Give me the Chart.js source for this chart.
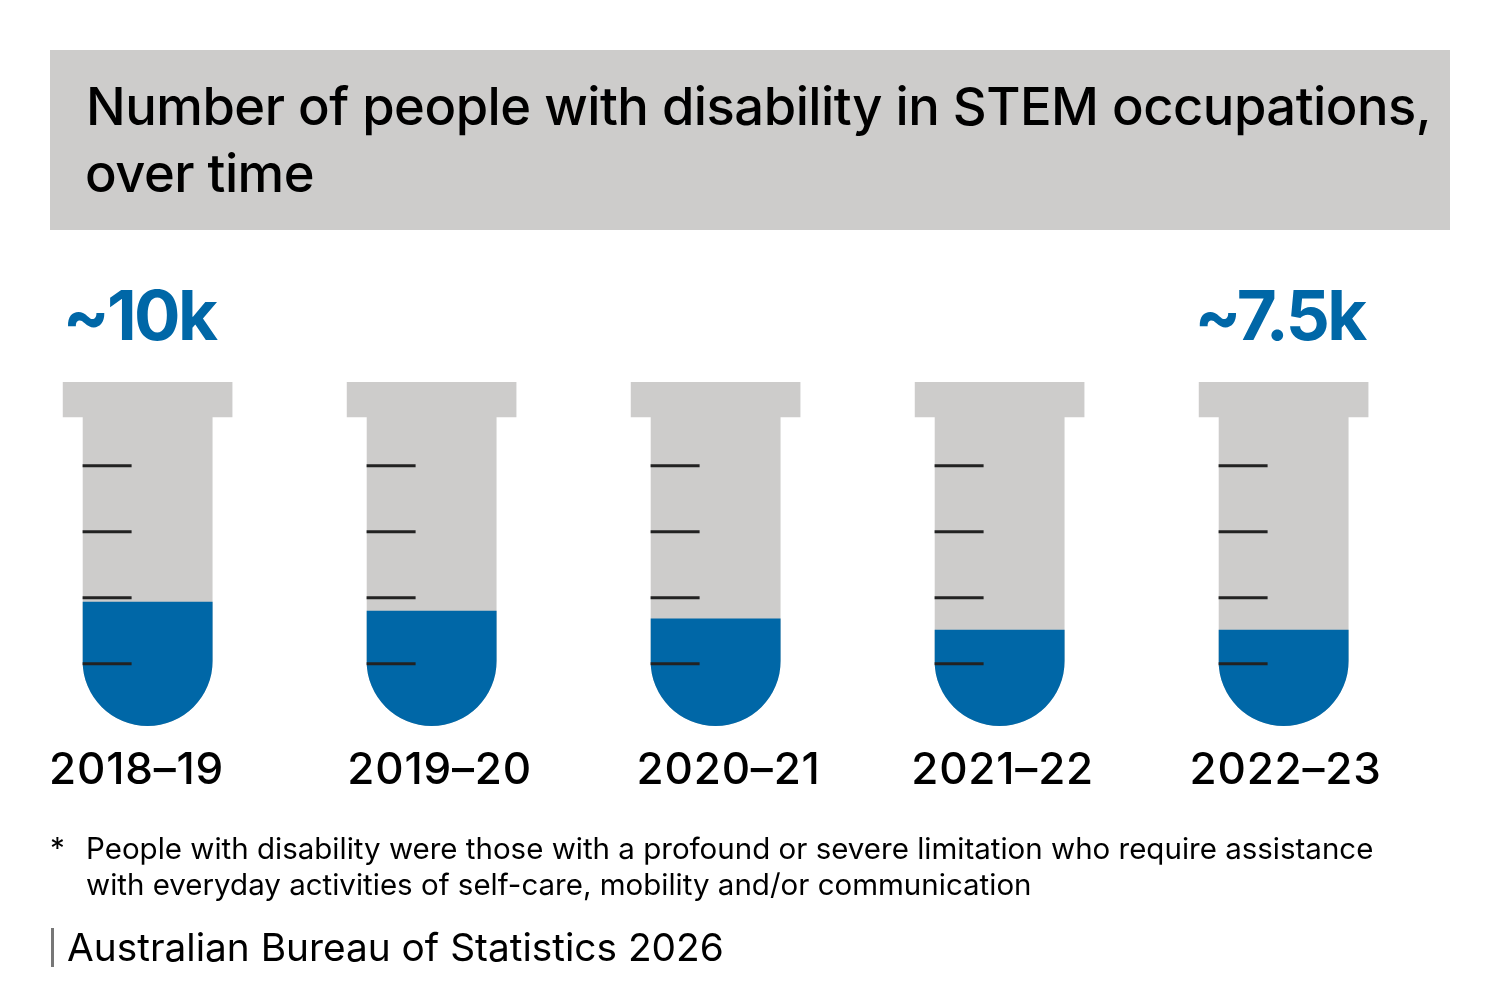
<!DOCTYPE html>
<html lang="en">
<head>
<meta charset="utf-8">
<title>Number of people with disability in STEM occupations, over time</title>
<style>
  html, body { margin: 0; padding: 0; background: #fff; }
  body { position: relative; width: 1500px; height: 1000px; overflow: hidden; font-family: Inter, "Noto Sans", sans-serif; color: #000; }
  #chart { position: absolute; left: 0; top: 0; }
  .text { position: absolute; white-space: nowrap; }
  #band { position: absolute; left: 50px; top: 50px; width: 1400px; height: 180px; background: #cdcccb; }
  #title1, #title2 { left: 86px; font-size: 52.5px; font-weight: 500; line-height: 68px; letter-spacing: -0.5px; }
  #title1 { top: 72px; }
  #title2 { top: 139px; left: 85px; }
  .note { font-size: 29.5px; line-height: 36px; left: 86px; }
  #rule { position: absolute; left: 51px; top: 928px; width: 3px; height: 39px; background: #777; }
  #source { left: 67px; top: 924px; font-size: 38.8px; line-height: 46px; }
</style>
</head>
<body>
<div id="band"></div>
<canvas id="chart" width="1500" height="1000"></canvas>
<div class="text" id="title1">Number of people with disability in STEM occupations,</div>
<div class="text" id="title2">over time</div>
<div class="text note" style="left:50px;top:830px">*</div>
<div class="text note" style="top:830px">People with disability were those with a profound or severe limitation who require assistance</div>
<div class="text note" style="top:866px">with everyday activities of self-care, mobility and/or communication</div>
<div id="rule"></div>
<div class="text" id="source">Australian Bureau of Statistics 2026</div>

<script src="https://cdn.jsdelivr.net/npm/chart.js@4"></script>
<script>
// People with disability in STEM occupations, in thousands
const years = ["2018–19", "2019–20", "2020–21", "2021–22", "2022–23"];
const peopleThousands = [10, 9.2, 8.5, 7.5, 7.5];
const callouts = ["~10k", null, null, null, "~7.5k"];

// Test tube outline and graduation marks, in the same units as the fill
const tubeFloor = -1.07;
const tubeBody = [26.52, 26.52, 26.52, 26.52, 26.52];
const tubeCap = [[26.52, 29.64], [26.52, 29.64], [26.52, 29.64], [26.52, 29.64], [26.52, 29.64]];
const graduations = [4.49, 10.39, 16.28, 22.16];

const GREY = "#cdcccb";
const BLUE = "#0067a7";
const BODY_WIDTH = 130;

// Horizontal nudges so the year labels and callouts sit where the layout wants them
const yearShift = [-11, 8, 13, 3, 2];
const calloutShift = [-8.5, 0, 0, 0, -4];

// Bar corners cap below a full semicircle, so the tube foot is cut with a clip path
const tubeFoot = {
  id: "tubeFoot",
  beforeDatasetDraw(chart, args) {
    const meta = args.meta;
    if (!chart.data.datasets[args.index].roundFoot) return;
    const { ctx, scales: { y } } = chart;
    const floor = y.getPixelForValue(tubeFloor);
    const r = BODY_WIDTH / 2;
    ctx.save();
    ctx.beginPath();
    meta.data.forEach(bar => {
      ctx.rect(bar.x - r, 0, BODY_WIDTH, floor - r);
      ctx.moveTo(bar.x + r, floor - r);
      ctx.arc(bar.x, floor - r, r, 0, Math.PI);
      ctx.closePath();
    });
    ctx.clip();
  },
  afterDatasetDraw(chart, args) {
    if (chart.data.datasets[args.index].roundFoot) chart.ctx.restore();
  }
};

const tubeDecor = {
  id: "tubeDecor",
  afterDatasetsDraw(chart) {
    const { ctx, scales: { x, y } } = chart;
    ctx.save();
    // graduation marks along the left wall of every tube
    ctx.strokeStyle = "#222";
    ctx.lineWidth = 3;
    years.forEach((year, i) => {
      const left = x.getPixelForValue(i) - BODY_WIDTH / 2;
      graduations.forEach(g => {
        const py = y.getPixelForValue(g);
        ctx.beginPath();
        ctx.moveTo(left, py);
        ctx.lineTo(left + 49, py);
        ctx.stroke();
      });
    });
    // year under each tube
    ctx.fillStyle = "#000";
    ctx.textAlign = "center";
    ctx.textBaseline = "alphabetic";
    ctx.font = "500 44px Inter, sans-serif";
    ctx.letterSpacing = "0.8px";
    years.forEach((year, i) => {
      ctx.fillText(year, x.getPixelForValue(i) + yearShift[i], 784);
    });
    // callouts for the first and last year
    ctx.fillStyle = BLUE;
    ctx.font = "700 69px Inter, sans-serif";
    ctx.letterSpacing = "-2.6px";
    callouts.forEach((text, i) => {
      if (text) ctx.fillText(text, x.getPixelForValue(i) + calloutShift[i], 340);
    });
    ctx.restore();
  }
};

new Chart(document.getElementById("chart"), {
  type: "bar",
  data: {
    labels: years,
    datasets: [
      {
        label: "People with disability (thousands)",
        data: peopleThousands,
        base: tubeFloor,
        backgroundColor: BLUE,
        barThickness: BODY_WIDTH,
        roundFoot: true,
        order: 1
      },
      {
        label: "Tube",
        data: tubeBody,
        base: tubeFloor,
        backgroundColor: GREY,
        barThickness: BODY_WIDTH,
        roundFoot: true,
        order: 2
      },
      {
        label: "Cap",
        data: tubeCap,
        backgroundColor: GREY,
        barThickness: 169,
        order: 3
      }
    ]
  },
  options: {
    responsive: false,
    animation: false,
    devicePixelRatio: 1,
    layout: { padding: { left: 5.6, right: 74.4, top: 382, bottom: 274 } },
    datasets: { bar: { grouped: false } },
    scales: {
      x: { display: false },
      y: { display: false, min: tubeFloor, max: 29.64 }
    },
    plugins: { legend: { display: false }, tooltip: { enabled: false }, title: { display: false } }
  },
  plugins: [tubeFoot, tubeDecor]
});
</script>
</body>
</html>
